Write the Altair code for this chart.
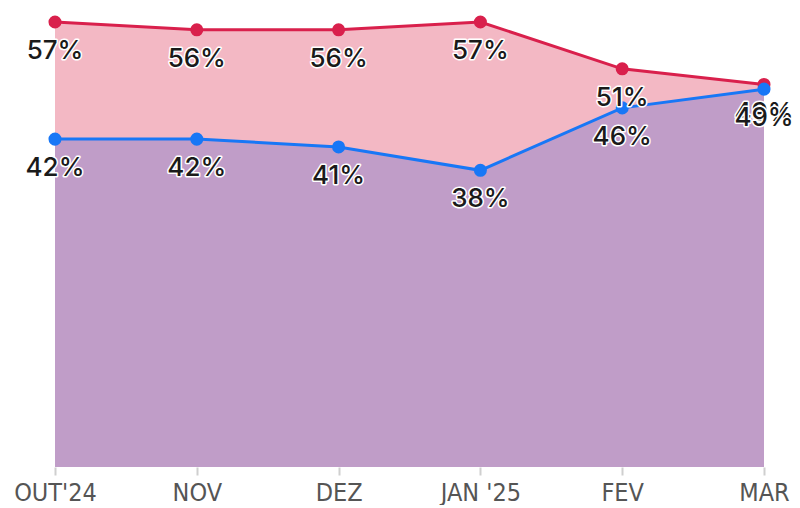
import altair as alt
import pandas as pd

months = ["OUT'24", "NOV", "DEZ", "JAN '25", "FEV", "MAR"]
red_values = [57, 56, 56, 57, 51, 49]
blue_values = [42, 42, 41, 38, 46, 48.4]
red_labels = ["57%", "56%", "56%", "57%", "51%", "49%"]
blue_labels = ["42%", "42%", "41%", "38%", "46%", "49%"]

red = pd.DataFrame({"month": months, "v": red_values, "lab": red_labels})
blue = pd.DataFrame({"month": months, "v": blue_values, "lab": blue_labels})

x = alt.X("month:N", sort=months, scale=alt.Scale(type="point", padding=0),
          axis=alt.Axis(title=None, domain=False, ticks=True, tickColor="#cfcfcf", tickWidth=2,
                        tickSize=8, labelFontSize=25, labelColor="#555555", labelPadding=5,
                        labelAngle=0,
                        labelFont="Liberation Sans Narrow, DejaVu Sans Condensed, Roboto",
                        grid=False))
y = alt.Y("v:Q", scale=alt.Scale(domain=[0, 57], nice=False, zero=True), axis=None)

red_color = "#d9204c"
blue_color = "#1877f6"

def layers(df, area_color, line_color):
    base = alt.Chart(df).encode(x=x, y=y)
    area = base.mark_area(color=area_color, opacity=1)
    line = base.mark_line(color=line_color, strokeWidth=3)
    pts = base.mark_point(filled=True, color=line_color, size=170, opacity=1)
    return area, line, pts

def labels(df):
    base = alt.Chart(df).encode(x=x, y=y, text="lab:N")
    halo = base.mark_text(dy=29, fontSize=26, font="Inter", fontWeight=500,
                          stroke="white", strokeWidth=3, strokeJoin="round", color="white")
    txt = base.mark_text(dy=29, fontSize=26, font="Inter", fontWeight=500, color="#1a1a1a")
    return halo, txt

ra, rl, rp = layers(red, "#f3b8c4", red_color)
ba, bl, bp = layers(blue, "#c09dc8", blue_color)
rh, rt = labels(red)
bh, bt = labels(blue)

chart = alt.layer(ra, ba, rl, bl, rp, bp, rh, rt, bh, bt).properties(
    width=709, height=445,
    padding={"left": 47, "top": 14, "right": 28, "bottom": 38},
    autosize=alt.AutoSizeParams(type="none"),
).configure_view(stroke=None)

chart.save("out.html", embed_options={"renderer": "svg", "actions": False})
